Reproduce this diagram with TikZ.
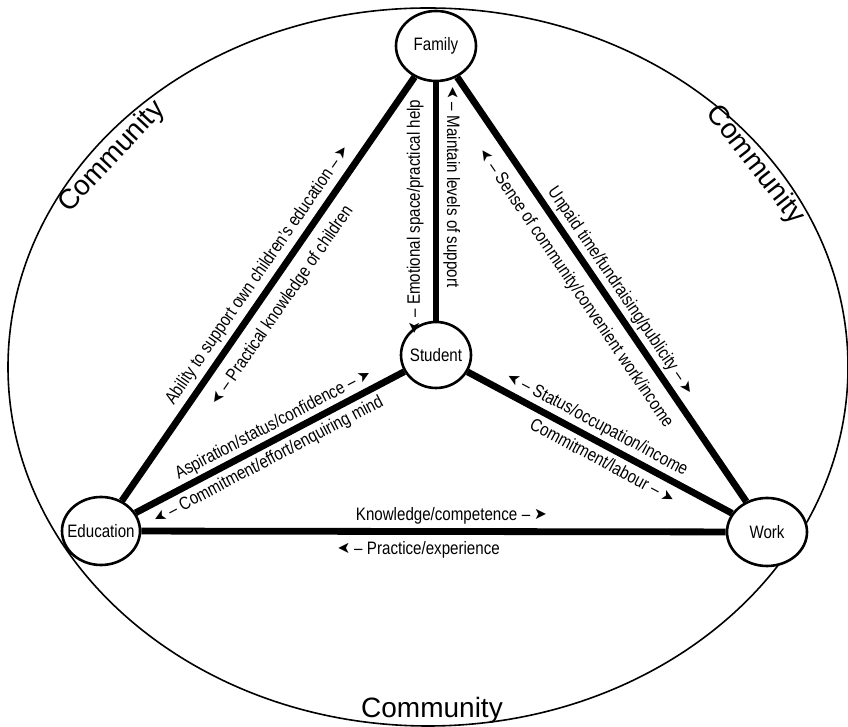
\documentclass[tikz,border=0pt]{standalone}
\usepackage{graphicx}
\usepackage{fontspec}
\setmainfont{Liberation Sans}
\newfontfamily\symfont{DejaVu Sans}
\usetikzlibrary{shapes.geometric}
\newcommand\nar[1]{\scalebox{0.84}[1]{#1}}
\newcommand\rarr{\hspace{0.3em}–\hspace{0.25em}\raisebox{0.3pt}{\symfont\scalebox{1.0}[0.9]{➤}}}
\newcommand\larr{\raisebox{0.3pt}{\symfont\scalebox{-1.0}[0.9]{➤}}\hspace{0.25em}–\hspace{0.3em}}
\tikzset{
  nd/.style={ellipse, draw, line width=2.6pt, fill=white, inner sep=0pt,
    font=\fontsize{18}{20}\selectfont},
  edge/.style={line width=6.8pt},
  lab/.style={font=\fontsize{18}{20}\selectfont, inner sep=1pt},
  comm/.style={font=\fontsize{28}{32}\selectfont, inner sep=0pt}
}
\begin{document}
\begin{tikzpicture}[x=1pt,y=1pt]
\useasboundingbox (0,0) rectangle (848,727);
\fill[white] (0,0) rectangle (848,727);
\draw[line width=1.6pt] (428,360) ellipse [x radius=420, y radius=359];

\node[nd, minimum width=80pt, minimum height=70pt] (fam) at (436,681) {\makebox[0pt]{\nar{Family}}};
\node[nd, minimum width=70pt, minimum height=66pt] (stu) at (436,372) {\makebox[0pt]{\nar{Student}}};
\node[nd, minimum width=78pt, minimum height=68pt] (edu) at (101,196) {\makebox[0pt]{\nar{Education}}};
\node[nd, minimum width=80pt, minimum height=68pt] (work) at (767,195) {\makebox[0pt]{\nar{Work}}};

\draw[edge] (edu) -- (fam);
\draw[edge] (edu) -- (stu);
\draw[edge] (edu) -- (work);
\draw[edge] (fam) -- (work);
\draw[edge] (stu) -- (work);
\draw[edge] (fam) -- (stu);

\path (edu.center) -- (fam.center)
  node[lab, pos=0.509, sloped, anchor=south, outer sep=6.8pt] {\nar{Ability to support own children’s education\rarr}}
  node[lab, pos=0.489, sloped, anchor=north, outer sep=11.5pt] {\nar{\larr Practical knowledge of children}};
\path (edu.center) -- (stu.center)
  node[lab, pos=0.534, sloped, anchor=south, outer sep=4.6pt] {\nar{Aspiration/status/confidence\rarr}}
  node[lab, pos=0.478, sloped, anchor=north, outer sep=6.4pt] {\nar{\larr Commitment/effort/enquiring mind}};
\path (edu.center) -- (work.center)
  node[lab, pos=0.526, anchor=south, outer sep=6.5pt] {\nar{Knowledge/competence\rarr}}
  node[lab, pos=0.477, anchor=north, outer sep=8.5pt] {\nar{\larr Practice/experience}};
\path (fam.center) -- (work.center)
  node[lab, pos=0.522, sloped, anchor=south, outer sep=5.2pt] {\nar{Unpaid time/fundraising/publicity\rarr}}
  node[lab, pos=0.474, sloped, anchor=north, outer sep=12pt] {\nar{\larr Sense of community/convenient work/income}};
\path (stu.center) -- (work.center)
  node[lab, pos=0.465, sloped, anchor=south, outer sep=5.6pt] {\nar{\larr Status/occupation/income}}
  node[lab, pos=0.525, sloped, anchor=north, outer sep=7pt] {\nar{Commitment/labour\rarr}};
\path (fam.center) -- (stu.center)
  node[lab, pos=0.456, rotate=-90, anchor=south, outer sep=6.5pt] {\nar{\larr Maintain levels of support}}
  node[lab, pos=0.553, rotate=90, anchor=south, outer sep=11.5pt] {\nar{\larr Emotional space/practical help}};

\node[comm, rotate=47] (c1) at (112,570) {Community};
\node[comm, rotate=-52] (c2) at (755,562) {Community};
\node[comm, anchor=base] (c3) at (432,9) {Community};
\end{tikzpicture}
\end{document}
